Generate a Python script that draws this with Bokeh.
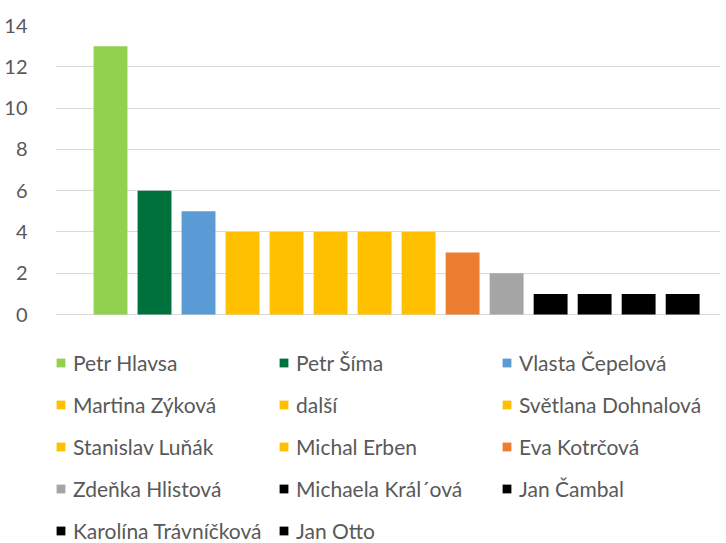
from bokeh.plotting import figure
from bokeh.models import ColumnDataSource, Legend, LegendItem, Range1d
from bokeh.embed import file_html
from bokeh.resources import INLINE

names = ["Petr Hlavsa", "Petr Šíma", "Vlasta Čepelová", "Martina Zýková", "další",
         "Světlana Dohnalová", "Stanislav Luňák", "Michal Erben", "Eva Kotrčová",
         "Zdeňka Hlistová", "Michaela Král´ová", "Jan Čambal", "Karolína Trávníčková", "Jan Otto"]
values = [13, 6, 5, 4, 4, 4, 4, 4, 3, 2, 1, 1, 1, 1]
colors = ["#92D050", "#00703C", "#5B9BD5", "#FFC000", "#FFC000", "#FFC000", "#FFC000",
          "#FFC000", "#ED7D31", "#A5A5A5", "#000000", "#000000", "#000000", "#000000"]
y_ticks = [0, 2, 4, 6, 8, 10, 12, 14]

FONT = "Lato"
src = ColumnDataSource(dict(x=list(range(len(names))), top=values, color=colors, name=names))

# The plot frame reaches down to the bottom of the page so the legend can sit inside it
# underneath the bars; the value axis 0..14 occupies the upper part of the frame.
p = figure(width=720, height=543, output_backend="svg", toolbar_location=None,
           x_range=Range1d(-1.25, 13.86), y_range=Range1d(-11.09, 14),
           min_border_left=55, min_border_top=25, min_border_right=0, min_border_bottom=0)
p.outline_line_color = None
r = p.vbar(x="x", top="top", bottom=0, width=0.77, fill_color="color", line_color=None, source=src)

p.xaxis.visible = False
p.xgrid.grid_line_color = None
p.ygrid.grid_line_color = "#D9D9D9"
p.ygrid.grid_line_width = 1
p.yaxis.ticker = y_ticks
p.ygrid.ticker = y_ticks
p.yaxis.axis_line_color = None
p.yaxis.major_tick_line_color = None
p.yaxis.minor_tick_line_color = None
p.yaxis.major_label_standoff = 22
p.yaxis.major_label_text_font = FONT
p.yaxis.major_label_text_font_size = "20px"
p.yaxis.major_label_text_color = "#595959"

items = [LegendItem(label=n, renderers=[r], index=i) for i, n in enumerate(names)]
legend = Legend(items=items, ncols=3, orientation="horizontal", location="bottom_left",
                border_line_color=None, background_fill_alpha=0,
                label_text_font=FONT, label_text_font_size="21px", label_text_color="#595959",
                glyph_width=11, glyph_height=11, label_standoff=7, spacing=16,
                label_height=26, label_width=189, padding=0, margin=0)
p.add_layout(legend, "center")

open("out.html", "w").write(file_html(p, INLINE))
